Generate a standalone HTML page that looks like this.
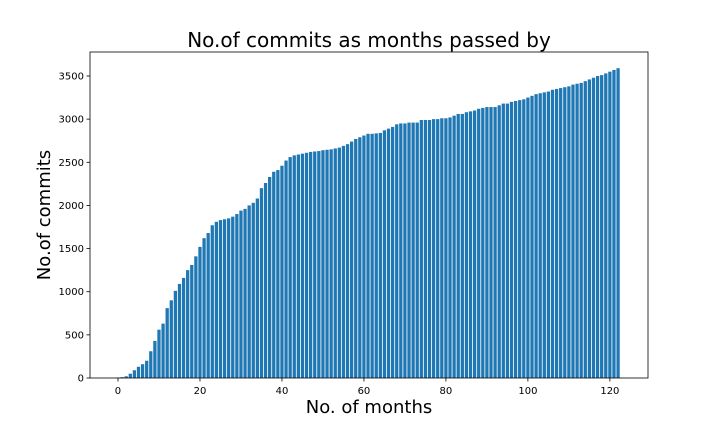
<!DOCTYPE html>
<html><head><meta charset="utf-8"><style>
body{margin:0;background:#fff;}
svg{display:block;font-family:"DejaVu Sans","Liberation Sans",sans-serif;}
</style></head><body>
<svg id="chart" width="720" height="432" viewBox="0 0 720 432">
<rect width="720" height="432" fill="#fff"/>
<text x="369" y="47" font-size="20" text-anchor="middle" fill="#000">No.of commits as months passed by</text>
<g id="bars"></g>
<g id="axes"></g>
<text x="369" y="413" font-size="18" text-anchor="middle" fill="#000">No. of months</text>
<text transform="translate(50,215) rotate(-90)" font-size="18" text-anchor="middle" fill="#000">No.of commits</text>
</svg>
<script>
const values=[5,10,20,50,90,130,160,200,310,430,560,630,810,900,1010,1090,1160,1250,1310,1410,1520,1620,1680,1770,1810,1830,1840,1850,1870,1900,1940,1960,2000,2030,2080,2200,2260,2330,2390,2410,2460,2520,2560,2580,2590,2600,2610,2620,2625,2630,2640,2645,2650,2660,2670,2690,2710,2740,2770,2790,2810,2830,2830,2835,2840,2870,2890,2910,2940,2950,2950,2960,2960,2960,2990,2990,2990,3000,3000,3010,3010,3020,3040,3060,3060,3080,3090,3100,3120,3130,3140,3140,3140,3160,3180,3180,3200,3210,3220,3230,3250,3270,3290,3300,3310,3320,3340,3350,3360,3370,3380,3400,3410,3420,3440,3460,3480,3500,3510,3530,3550,3570,3590];
const xTicks=[0,20,40,60,80,100,120];
const yTicks=[0,500,1000,1500,2000,2500,3000,3500];
const L=90,R=648,T=52,B=378;
const xMin=-6.83,xMax=129.3,yMax=3778;
const sx=v=>L+(v-xMin)/(xMax-xMin)*(R-L);
const sy=v=>B-v/yMax*(B-T);
const NS="http://www.w3.org/2000/svg";
const bars=document.getElementById('bars'),axes=document.getElementById('axes');
values.forEach((v,i)=>{
  const r=document.createElementNS(NS,'rect');
  r.setAttribute('x',sx(i-0.4));r.setAttribute('width',sx(i+0.4)-sx(i-0.4));
  r.setAttribute('y',sy(v));r.setAttribute('height',B-sy(v));r.setAttribute('fill','#1f77b4');
  
  
  bars.appendChild(r);
});
const frame=document.createElementNS(NS,'rect');
frame.setAttribute('x',L);frame.setAttribute('y',T);frame.setAttribute('width',R-L);frame.setAttribute('height',B-T);
frame.setAttribute('fill','none');frame.setAttribute('stroke','#000');frame.setAttribute('stroke-width','0.8');


axes.appendChild(frame);
xTicks.forEach(t=>{
  const x=sx(t);
  const l=document.createElementNS(NS,'line');
  l.setAttribute('x1',x);l.setAttribute('x2',x);l.setAttribute('y1',B);l.setAttribute('y2',B+3.5);l.setAttribute('stroke','#000');l.setAttribute('stroke-width','0.8');
  
  
  axes.appendChild(l);
  const tx=document.createElementNS(NS,'text');
  tx.setAttribute('x',x);tx.setAttribute('y',B+16);tx.setAttribute('font-size','10');tx.setAttribute('text-anchor','middle');
  tx.textContent=t;
  
  
  axes.appendChild(tx);
});
yTicks.forEach(t=>{
  const y=sy(t);
  const l=document.createElementNS(NS,'line');
  l.setAttribute('x1',L-3.5);l.setAttribute('x2',L);l.setAttribute('y1',y);l.setAttribute('y2',y);l.setAttribute('stroke','#000');l.setAttribute('stroke-width','0.8');
  
  
  axes.appendChild(l);
  const tx=document.createElementNS(NS,'text');
  tx.setAttribute('x',L-6);tx.setAttribute('y',y+3.5);tx.setAttribute('font-size','10');tx.setAttribute('text-anchor','end');
  tx.textContent=t;
  
  
  axes.appendChild(tx);
});
</script>
</body></html>
